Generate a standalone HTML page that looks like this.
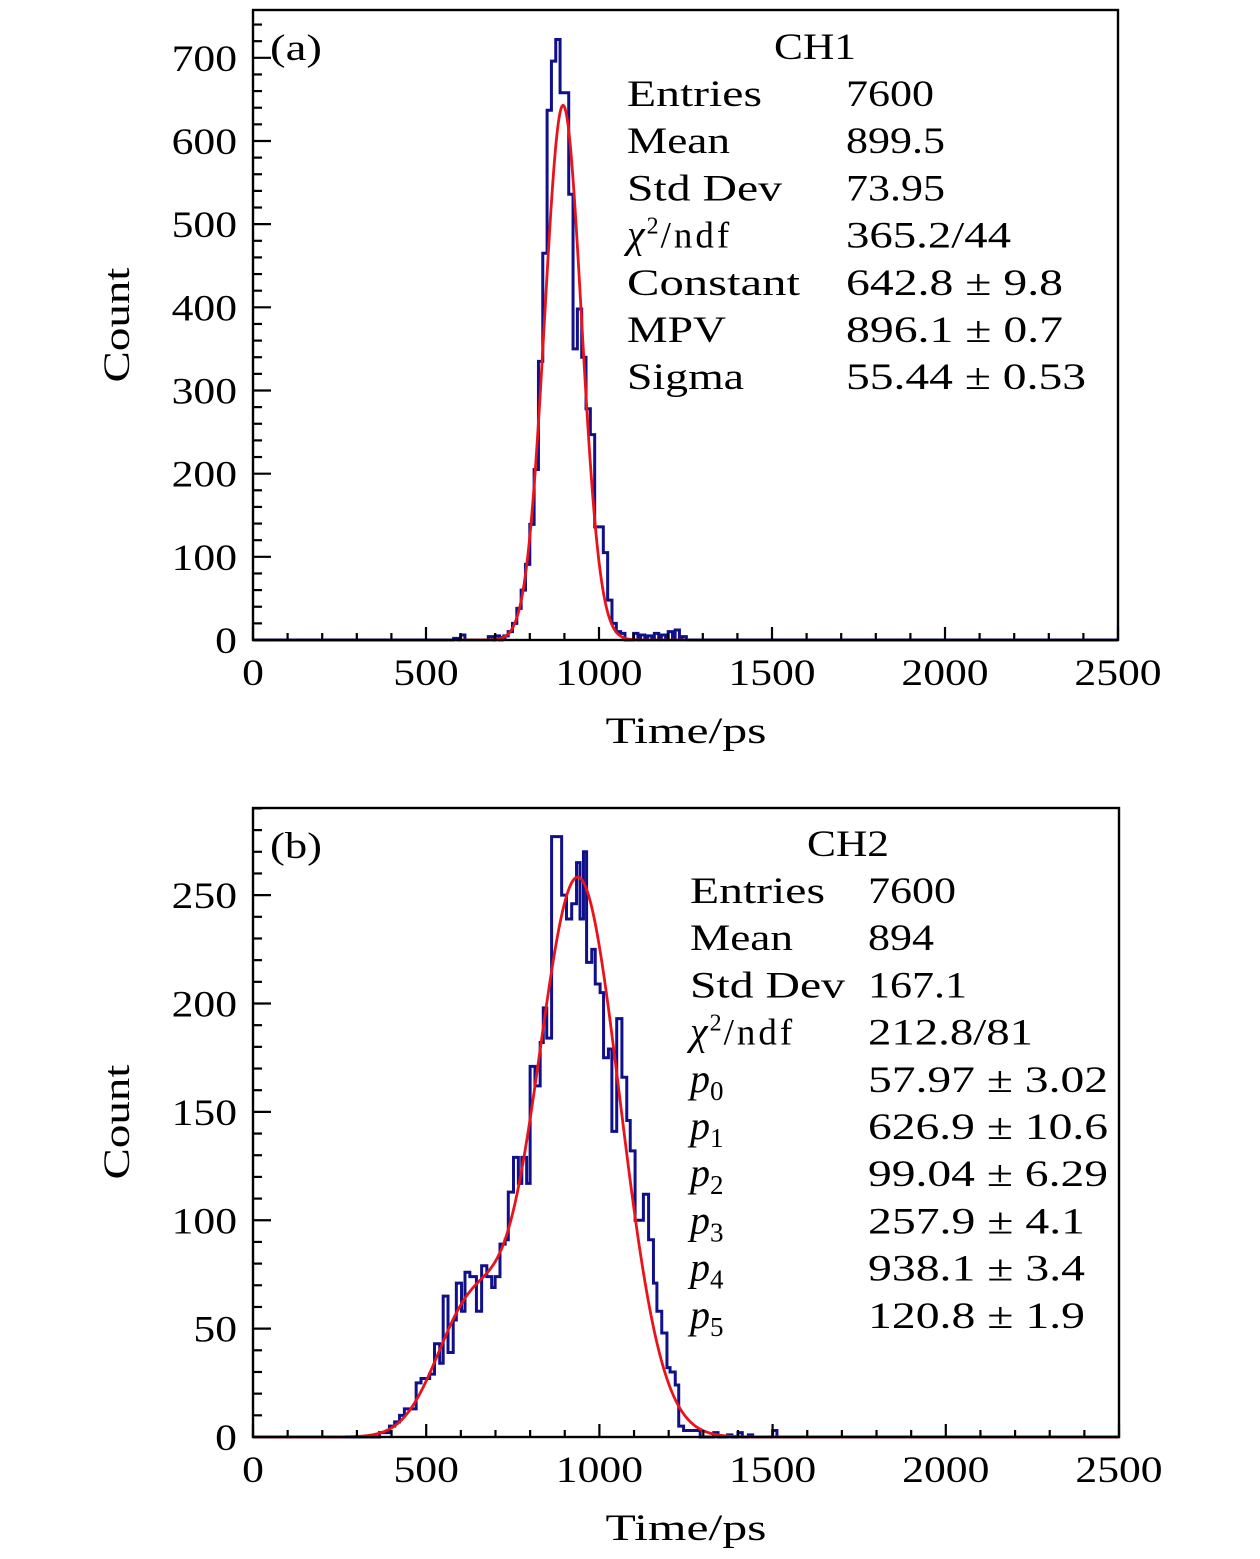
<!DOCTYPE html>
<html><head><meta charset="utf-8"><style>
html,body{margin:0;padding:0;background:#fff}
svg{display:block}
text{font-family:"Liberation Serif","DejaVu Serif",serif;fill:#000}
</style></head>
<body>
<svg id="fig" width="1260" height="1559" viewBox="0 0 1260 1559" xmlns="http://www.w3.org/2000/svg"></svg>
<script>
// ---------- Panel (a) data ----------
const binStartA = 725;
const binWidthA = 12.5;
const countsA = [5,10,20,38,60,91,139,205,335,465,637,696,722,658,658,536,350,398,340,278,247,136,136,105,48,20,10,8];
const tailXA = [580,600,680,700,720,1100,1120,1140,1160,1180,1200,1220,1240];
const tailYA = [2,6,4,5,3,8,6,5,8,6,10,12,4];
const fitA = [642.8, 896.1, 53];
const yTicksA = [0,100,200,300,400,500,600,700];
const xTicks = [0,500,1000,1500,2000,2500];
const statsLabelsA = ["Entries","Mean","Std Dev","\u03C7\u00B2/ndf","Constant","MPV","Sigma"];
const statsValuesA = ["7600","899.5","73.95","365.2/44","642.8 \u00B1 9.8","896.1 \u00B1 0.7","55.44 \u00B1 0.53"];

// ---------- Panel (b) data ----------
const edgesB = [365,394,409,423,437,471,485,510,524,539,549,563,578,587,602,612,626,645,660,675,689,699,713,728,737,752,766,776,790,800,814,829,838,848,862,891,905,920,934,944,954,963,978,988,1002,1012,1026,1036,1050,1065,1079,1089,1103,1113,1127,1142,1156,1166,1180,1195,1204,1219,1229,1243,1291];
const countsB = [2,5,7,10,13,25,27,29,43,34,65,39,54,71,58,76,74,58,79,74,69,74,89,91,113,129,117,129,117,171,162,182,198,184,277,250,239,246,265,239,270,219,225,209,205,175,179,141,193,166,146,132,100,100,112,91,71,58,48,32,30,24,5,3];
const tailXB = [1330,1370,1400,1430,1500];
const tailYB = [2,1,2,1,3];
const fitB = [57.97,626.9,99.04,257.9,938.1,120.8];
const yTicksB = [0,50,100,150,200,250];
const statsLabelsB = ["Entries","Mean","Std Dev","\u03C7\u00B2/ndf","p0","p1","p2","p3","p4","p5"];
const statsValuesB = ["7600","894","167.1","212.8/81","57.97 \u00B1 3.02","626.9 \u00B1 10.6","99.04 \u00B1 6.29","257.9 \u00B1 4.1","938.1 \u00B1 3.4","120.8 \u00B1 1.9"];

const NS="http://www.w3.org/2000/svg";
const svg=document.getElementById('fig');
function mk(tag,attrs,parent){const e=document.createElementNS(NS,tag);for(const k in attrs)e.setAttribute(k,attrs[k]);(parent||svg).appendChild(e);return e;}

function panel(o){
  const g=mk('g',{});
  
  
  const X=v=>o.x0+(v-0)/2500*(o.x1-o.x0);
  const Y=v=>o.yb-(v/o.ymax)*(o.yb-o.yt);
  const bins=[];
  for(let i=0;i<o.tailX.length;i++)bins.push([o.tailX[i],o.tailX[i]+12.5,o.tailY[i]]);
  for(let i=0;i<o.counts.length;i++)bins.push([o.lo(i),o.hi(i),o.counts[i]]);
  bins.sort((a,b)=>a[0]-b[0]);
  let d=`M${X(0)},${Y(0)}`;
  let cur=0;
  for(let k=0;k<bins.length;k++){
    const b=bins[k];
    d+=` L${X(b[0])},${Y(cur)} L${X(b[0])},${Y(b[2])} L${X(b[1])},${Y(b[2])}`;
    cur=b[2];
    const nxt=bins[k+1];
    if(!nxt||nxt[0]>b[1]+0.01){d+=` L${X(b[1])},${Y(0)}`;cur=0;}
  }
  d+=` L${X(2500)},${Y(0)}`;
  const h=mk('path',{d:d,fill:'none',stroke:'#10108a','stroke-width':3},g);
  
  
  let fd='';
  for(let t=o.fitFrom;t<=o.fitTo;t+=2){fd+=(fd?' L':'M')+X(t)+','+Y(o.fit(t));}
  const f=mk('path',{d:fd,fill:'none',stroke:'#e8141b','stroke-width':2.8},g);
  
  
  const fr=mk('rect',{x:o.x0,y:o.yt,width:o.x1-o.x0,height:o.yb-o.yt,fill:'none',stroke:'#000','stroke-width':2.4},g);
  
  
  for(let v=0;v<=2500;v+=100){
    const len=v%500===0?13:7;
    mk('line',{x1:X(v),x2:X(v),y1:o.yb,y2:o.yb-len,stroke:'#000','stroke-width':2.2},g);
  }
  for(const v of xTicks){
    const s=String(v);
    const t=mk('text',{x:X(v),y:o.yb+45,'text-anchor':'middle','font-size':37,textLength:s.length*21.8,lengthAdjust:'spacingAndGlyphs'},g);
    t.textContent=s;
    
    
  }
  for(let v=0;v<=o.ymax;v+=o.yMinor){
    const major=Math.abs(v/o.yMajor-Math.round(v/o.yMajor))<1e-6;
    mk('line',{x1:o.x0,x2:o.x0+(major?18:9),y1:Y(v),y2:Y(v),stroke:'#000','stroke-width':2.2},g);
  }
  for(const v of o.yTicks){
    const s=String(v);
    const t=mk('text',{x:237,y:Y(v)+13,'text-anchor':'end','font-size':37,textLength:s.length*21.8,lengthAdjust:'spacingAndGlyphs'},g);
    t.textContent=s;
    
    
  }
  const xt=mk('text',{x:686,y:o.yb+103,'text-anchor':'middle','font-size':37,textLength:161,lengthAdjust:'spacingAndGlyphs'},g);
  xt.textContent='Time/ps';
  
  
  const yt=mk('text',{x:0,y:0,'text-anchor':'middle','font-size':37,textLength:115,lengthAdjust:'spacingAndGlyphs',transform:`translate(129,${o.ymid}) rotate(-90)`},g);
  yt.textContent='Count';
  
  
  const pl=mk('text',{x:270,y:o.yt+50,'font-size':37,textLength:52,lengthAdjust:'spacingAndGlyphs'},g);
  pl.textContent=o.label;
  
  
  const sb=mk('g',{},g);
  
  
  const ti=mk('text',{x:o.titleX,y:o.titleY,'text-anchor':'middle','font-size':37,textLength:82,lengthAdjust:'spacingAndGlyphs'},sb);
  ti.textContent=o.title;
  for(let i=0;i<o.labels.length;i++){
    const yy=o.rowY+i*47.2;
    const lab=o.labels[i];
    const lt=mk('text',{x:o.labX,y:yy,'font-size':37},sb);
    if(/^p\d$/.test(lab)){
      const a=mk('tspan',{'font-style':'italic','font-size':40},lt);a.textContent='p';
      const b=mk('tspan',{dy:8,'font-size':27},lt);b.textContent=lab[1];
    } else if(lab.startsWith('\u03C7')){
      const a=mk('tspan',{'font-style':'italic','font-size':40},lt);a.textContent='\u03C7';
      const b=mk('tspan',{dy:-14,'font-size':24,dx:2},lt);b.textContent='2';
      const c=mk('tspan',{dy:14,dx:2,'letter-spacing':3},lt);c.textContent='/ndf';
    } else {
      lt.textContent=lab;
      lt.setAttribute('textLength',o.labW[i]);
      lt.setAttribute('lengthAdjust','spacingAndGlyphs');
    }
    const vt=mk('text',{x:o.valX,y:yy,'font-size':37,textLength:o.valW[i],lengthAdjust:'spacingAndGlyphs'},sb);
    vt.textContent=o.values[i];
  }
}

panel({name:'panel-a-ch1',x0:253,x1:1118,yt:10,yb:640,ymax:757.5,yMinor:20,yMajor:100,ymid:325,
  yTicks:yTicksA,counts:countsA,tailX:tailXA,tailY:tailYA,
  lo:i=>binStartA+i*binWidthA,hi:i=>binStartA+(i+1)*binWidthA,
  fit:t=>fitA[0]*Math.exp(-0.5*Math.pow((t-fitA[1])/fitA[2],2)),fitFrom:600,fitTo:1250,
  label:'(a)',title:'CH1',titleX:815,titleY:59,labX:627,valX:846,rowY:106,
  labels:statsLabelsA,values:statsValuesA,
  labW:[135,103,155,0,173,99,117],valW:[88,99,99,165,217,217,240]});

panel({name:'panel-b-ch2',x0:253,x1:1119,yt:808,yb:1437,ymax:290.2,yMinor:10,yMajor:50,ymid:1122,
  yTicks:yTicksB,counts:countsB,tailX:tailXB,tailY:tailYB,
  lo:i=>edgesB[i],hi:i=>edgesB[i+1],
  fit:t=>fitB[0]*Math.exp(-0.5*Math.pow((t-fitB[1])/fitB[2],2))+fitB[3]*Math.exp(-0.5*Math.pow((t-fitB[4])/fitB[5],2)),fitFrom:0,fitTo:2500,
  label:'(b)',title:'CH2',titleX:848,titleY:856,labX:690,valX:868,rowY:903,
  labels:statsLabelsB,values:statsValuesB,
  labW:[135,103,155,0,0,0,0,0,0,0],valW:[88,66,99,165,240,240,240,217,217,217]});
</script>
</body></html>
